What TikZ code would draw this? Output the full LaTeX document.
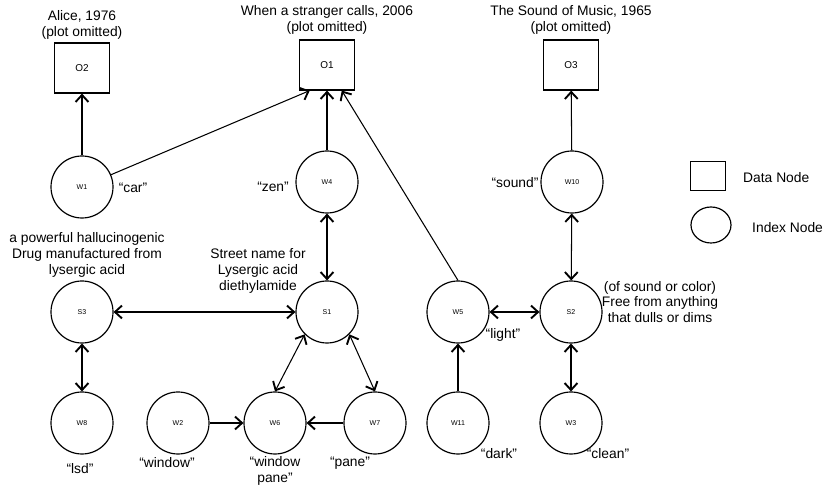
\documentclass[tikz,border=0pt]{standalone}
\usepackage{fontspec}
\setmainfont{Liberation Sans}
\usepackage{tikz}
\usetikzlibrary{arrows.meta, shapes.geometric, positioning}

\tikzset{
	idxnode/.style={circle, draw, line width=1pt, minimum size=1.86cm, inner sep=0pt, font=\fontsize{6}{7}\selectfont},
	datnode/.style={rectangle, draw, line width=1pt, minimum width=1.65cm, minimum height=1.5cm, font=\fontsize{8.5}{9}\selectfont},
	txt/.style={align=center, inner sep=0pt, font=\fontsize{11.8}{13.6}\selectfont},
	barb/.tip={Straight Barb[length=6pt,width=11pt,line width=1.6pt]},
	arr/.style={line width=0.9pt, -barb},
	biarr/.style={line width=0.9pt, barb-barb}
}

\begin{document}
\begin{tikzpicture}[x=0.03cm, y=-0.03cm]
			\useasboundingbox (0,0) rectangle (826,488);
			
			% data nodes
			\node[datnode] (o2) at (82,68) {O2};
			\node[datnode] (o1) at (327,65) {O1};
			\node[datnode] (o3) at (571,65) {O3};
			\node[txt] (lo2) at (82,25) {Alice, 1976\\(plot omitted)};
			\node[txt] (lo1) at (327,20) {When a stranger calls, 2006\\(plot omitted)};
			\node[txt] (lo3) at (571,20) {The Sound of Music, 1965\\(plot omitted)};
			
			% index nodes
			\node[idxnode] (w1) at (82,187) {W1};
			\node[idxnode] (w4) at (327,182) {W4};
			\node[idxnode] (w10) at (572,182) {W10};
			\node[idxnode] (s3) at (82,312) {S3};
			\node[idxnode] (s1) at (327,312) {S1};
			\node[idxnode] (w5) at (458,312) {W5};
			\node[idxnode] (s2) at (571,312) {S2};
			\node[idxnode] (w8) at (82,423) {W8};
			\node[idxnode] (w2) at (178,423) {W2};
			\node[idxnode] (w6) at (275,423) {W6};
			\node[idxnode] (w7) at (375,423) {W7};
			\node[idxnode] (w11) at (458,423) {W11};
			\node[idxnode] (w3) at (571,423) {W3};
			
			% word and sense labels
			\node[txt] (tcar) at (133,188) {“car”};
			\node[txt] (tzen) at (273,187) {“zen”};
			\node[txt] (tsound) at (515,183) {“sound”};
			\node[txt] (ts3) at (87,255) {a powerful hallucinogenic\\Drug manufactured from\\lysergic acid};
			\node[txt] (ts1) at (258,271) {Street name for\\Lysergic acid\\diethylamide};
			\node[txt] (ts2) at (660,302) {(of sound or color)\\Free from anything\\that dulls or dims};
			\node[txt] (tlight) at (503,335) {“light”};
			\node[txt] (tlsd) at (80,469) {“lsd”};
			\node[txt] (twindow) at (167,463) {“window”};
			\node[txt] (twpane) at (275,471) {“window\\pane”};
			\node[txt] (tpane) at (350,463) {“pane”};
			\node[txt] (tdark) at (499,454) {“dark”};
			\node[txt] (tclean) at (608,454) {“clean”};
			
			% legend
			\node[rectangle, draw, line width=1pt, minimum width=1.05cm, minimum height=0.87cm] (legdat) at (708,176) {};
			\node[ellipse, draw, line width=1pt, minimum width=1.2cm, minimum height=1.08cm] (legidx) at (711,225) {};
			\node[txt, anchor=west] (tlegdat) at (743,178) {Data Node};
			\node[txt, anchor=west] (tlegidx) at (752,228) {Index Node};
			
			% connectors
			\draw[arr] (w1) -- (o2);
			\draw[arr] (w1) -- (o1.236);
			\draw[arr] (w4) -- (o1);
			\draw[arr] (w5.north) -- (o1.-60);
			\draw[arr] (w10) -- (o3);
			\draw[biarr] (w4) -- (s1);
			\draw[biarr] (s3) -- (s1);
			\draw[biarr] (s3) -- (w8);
			\draw[biarr] (s1.-135) -- (w6.north);
			\draw[biarr] (s1.-45) -- (w7.north);
			\draw[arr] (w2) -- (w6);
			\draw[arr] (w7) -- (w6);
			\draw[biarr] (w5) -- (s2);
			\draw[biarr] (s2) -- (w10);
			\draw[biarr] (s2) -- (w3);
			\draw[arr] (w11) -- (w5);
		\end{tikzpicture}
\end{document}
